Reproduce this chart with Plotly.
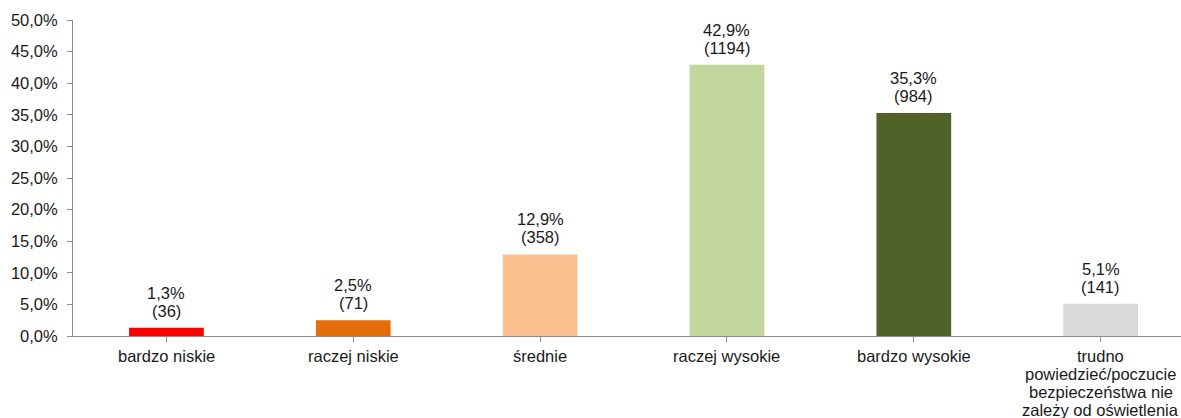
import plotly.graph_objects as go

# Ocena poczucia bezpieczeństwa – odsetek i liczba odpowiedzi
categories = [
    "bardzo niskie",
    "raczej niskie",
    "średnie",
    "raczej wysokie",
    "bardzo wysokie",
    "trudno<br>powiedzieć/poczucie<br>bezpieczeństwa nie<br>zależy od oświetlenia",
]
percent = [1.3, 2.5, 12.9, 42.9, 35.3, 5.1]
counts = [36, 71, 358, 1194, 984, 141]
bar_colors = ["#FF0000", "#E46C0A", "#FAC090", "#C3D69B", "#4F6228", "#D9D9D9"]

y_ticks = [0, 5, 10, 15, 20, 25, 30, 35, 40, 45, 50]
y_tick_labels = ["0,0%", "5,0%", "10,0%", "15,0%", "20,0%", "25,0%",
                 "30,0%", "35,0%", "40,0%", "45,0%", "50,0%"]


def pl(v):
    return f"{v:.1f}".replace(".", ",")


font_family = "Liberation Sans, Arial, sans-serif"
text_color = "#1a1a1a"
font = dict(family=font_family, size=16.5, color=text_color)
line_gap = 18  # px between stacked text lines

xs = list(range(len(categories)))

fig = go.Figure(
    go.Bar(
        x=xs,
        y=percent,
        marker=dict(color=bar_colors, line=dict(width=0)),
        width=0.4,
        hoverinfo="skip",
    )
)

annotations = []
# value labels above each bar: percentage and count on two lines
for x, p, c in zip(xs, percent, counts):
    for i, line in enumerate([f"{pl(p)}%", f"({c})"]):
        annotations.append(dict(
            x=x, y=p, xref="x", yref="y", text=line, showarrow=False,
            font=font, xanchor="center", yanchor="middle",
            yshift=17 + line_gap * (1 - i),
        ))
# category names under the axis, wrapped lines stacked tightly
for x, name in zip(xs, categories):
    for i, line in enumerate(name.split("<br>")):
        annotations.append(dict(
            x=x, y=0, xref="x", yref="y", text=line, showarrow=False,
            font=font, xanchor="center", yanchor="middle",
            yshift=-(20 + line_gap * i),
        ))

axis_color = "#8c8c8c"
fig.update_layout(
    width=1181,
    height=418,
    margin=dict(l=73, r=0, t=20, b=82),
    paper_bgcolor="white",
    plot_bgcolor="white",
    showlegend=False,
    font=font,
    annotations=annotations,
    xaxis=dict(
        range=[-0.5, 5.43],
        tickmode="array",
        tickvals=xs,
        ticktext=categories,
        showticklabels=False,
        tickson="boundaries",
        ticks="outside",
        ticklen=5,
        tickcolor=axis_color,
        showline=True,
        linecolor=axis_color,
        linewidth=1,
        showgrid=False,
        zeroline=False,
        automargin=False,
    ),
    yaxis=dict(
        range=[0, 50],
        tickmode="array",
        tickvals=y_ticks,
        ticktext=y_tick_labels,
        ticks="outside",
        ticklen=5,
        tickcolor=axis_color,
        ticklabelstandoff=6,
        showline=True,
        linecolor=axis_color,
        linewidth=1,
        showgrid=False,
        zeroline=False,
        automargin=False,
    ),
)

fig.write_html("out.html")
